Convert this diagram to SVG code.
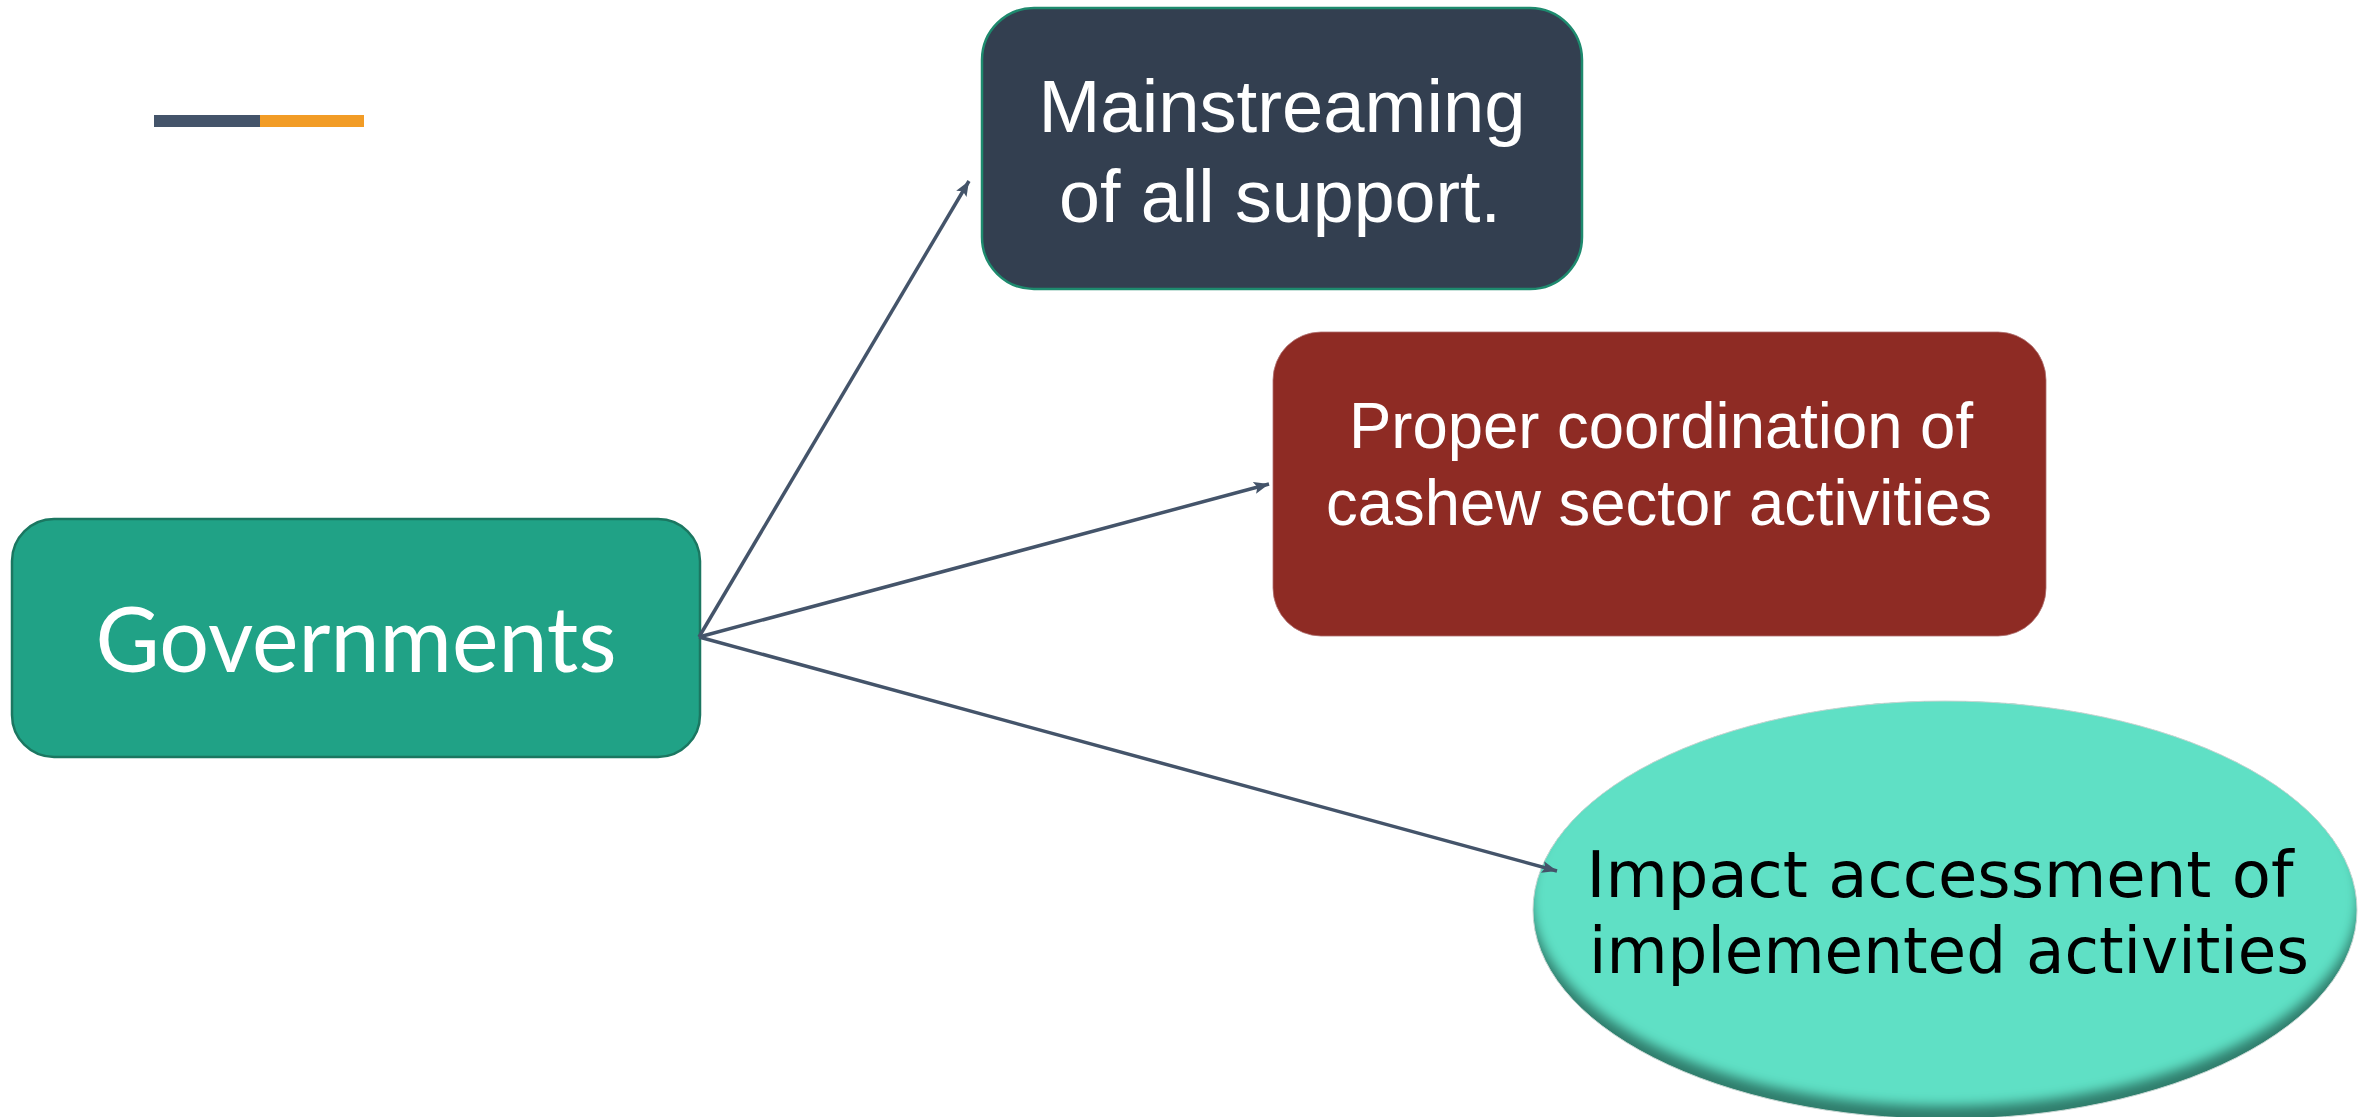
<svg xmlns="http://www.w3.org/2000/svg" width="2372" height="1117" viewBox="0 0 2372 1117">
<style>
.conn{stroke:#44546A;stroke-width:3.5;fill:none;marker-end:url(#ah)}
.w{fill:#FFFFFF}
.arial{font-family:"Liberation Sans",Arial,sans-serif;text-anchor:middle}
</style>
<defs>
<marker id="ah" markerUnits="userSpaceOnUse" markerWidth="18" markerHeight="14" refX="15" refY="6" orient="auto">
<path d="M0,0 L15,6 L0,12 L3,6 z" fill="#44546A"/>
</marker>
<clipPath id="ec">
<ellipse cx="1945" cy="910" rx="412" ry="209"/>
</clipPath>
<filter id="bl" x="-10%" y="-10%" width="120%" height="120%">
<feGaussianBlur stdDeviation="6"/>
</filter>
</defs>
<rect width="2372" height="1117" fill="#FFFFFF"/>
<g id="accent-bar">
<rect x="154" y="115" width="106" height="12" fill="#44546A"/>
<rect x="260" y="115" width="104" height="12" fill="#F29C26"/>
</g>
<g id="governments">
<rect x="12" y="519" width="688" height="238" rx="42" ry="42" fill="#20A286" stroke="#1B7761" stroke-width="2.5"/>
<text x="356" y="672" class="w" font-family="Lato,'Open Sans',sans-serif" font-size="92" text-anchor="middle" textLength="521" lengthAdjust="spacingAndGlyphs">Governments</text>
</g>
<g id="mainstreaming">
<rect x="982" y="8" width="600" height="281" rx="52" ry="52" fill="#333F50" stroke="#1E8A6E" stroke-width="2.5"/>
<text x="1282" y="132" class="w arial" font-size="74" textLength="487" lengthAdjust="spacingAndGlyphs">Mainstreaming</text>
<text x="1280" y="222" class="w arial" font-size="74" textLength="442" lengthAdjust="spacingAndGlyphs">of all support.</text>
</g>
<g id="coordination">
<rect x="1273" y="332" width="773" height="304" rx="48" ry="48" fill="#8E2B24" stroke="#B07070" stroke-width="0.8"/>
<text x="1661" y="448" class="w arial" font-size="64" textLength="624" lengthAdjust="spacingAndGlyphs">Proper coordination of</text>
<text x="1659" y="525" class="w arial" font-size="64" textLength="666" lengthAdjust="spacingAndGlyphs">cashew sector activities</text>
</g>
<g id="impact">
<g clip-path="url(#ec)">
<rect x="1520" y="690" width="850" height="440" fill="#2F7D6C"/>
<ellipse cx="1945" cy="896" rx="414" ry="210" fill="#5FE0C5" filter="url(#bl)"/>
</g>
<ellipse cx="1945" cy="910" rx="412" ry="209" fill="none" stroke="#C8D8D4" stroke-width="1"/>
<text x="1940" y="897" font-family="'DejaVu Sans',Verdana,sans-serif" font-size="64" fill="#000000" text-anchor="middle" textLength="707" lengthAdjust="spacingAndGlyphs">Impact accessment of</text>
<text x="1949" y="973" font-family="'DejaVu Sans',Verdana,sans-serif" font-size="64" fill="#000000" text-anchor="middle" textLength="720" lengthAdjust="spacingAndGlyphs">implemented activities</text>
</g>
<g id="connectors">
<line class="conn" x1="699" y1="637" x2="969" y2="181"/>
<line class="conn" x1="699" y1="637" x2="1269" y2="484"/>
<line class="conn" x1="699" y1="637" x2="1557" y2="871"/>
</g>
</svg>
